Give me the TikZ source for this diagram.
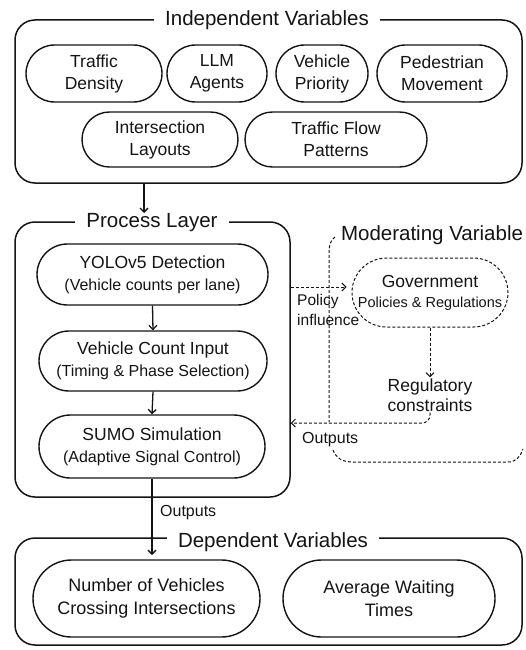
\documentclass[tikz,border=0pt]{standalone}
\usepackage{fontspec}
\setmainfont{Liberation Sans}
\usetikzlibrary{arrows.meta,shapes.misc}
\definecolor{ink}{HTML}{141414}
\begin{document}
\begin{tikzpicture}[x=1pt,y=-1pt,
  every node/.style={text=ink},
  group/.style={draw=ink, line width=1.5pt, rounded corners=20pt, inner sep=0pt},
  gtitle/.style={fill=white, inner xsep=11pt, inner ysep=1pt, font=\fontsize{20.5}{24}\selectfont},
  pill/.style={draw=ink, line width=1.4pt, rounded rectangle, inner sep=0pt, align=center, font=\fontsize{17.5}{22}\selectfont},
  dpill/.style={pill, dashed, line width=1pt, dash pattern=on 3pt off 2pt},
  lbl/.style={inner sep=0pt, align=left, font=\fontsize{16}{20}\selectfont},
  arr/.style={draw=ink, line width=1.3pt, -{Straight Barb[length=4pt,width=8pt]}},
  darr/.style={draw=ink, line width=1pt, dash pattern=on 3pt off 2pt, -{Straight Barb[length=4pt,width=8pt]}},
  dline/.style={draw=ink, line width=1pt, dash pattern=on 3pt off 2pt}
]
\useasboundingbox (0,0) rectangle (526,650);

% ---------- Independent variables ----------
\node[group, minimum width=507pt, minimum height=163pt] (indep) at (268.5,101.5) {};
\node[gtitle] (itit) at (267,20) {Independent Variables};
\node[pill, minimum width=136pt, minimum height=57pt] (td)  at (94,73.5)  {Traffic\\Density};
\node[pill, minimum width=100pt, minimum height=57pt] (llm) at (217,73.5) {LLM\\Agents};
\node[pill, minimum width=92pt,  minimum height=57pt] (vp)  at (322,73.5) {Vehicle\\Priority};
\node[pill, minimum width=130pt, minimum height=57pt] (pm)  at (442,73.5) {Pedestrian\\Movement};
\node[pill, minimum width=156pt, minimum height=55pt] (il)  at (160,139.5) {Intersection\\Layouts};
\node[pill, minimum width=182pt, minimum height=55pt] (tfp) at (336,139.5) {Traffic Flow\\Patterns};

% ---------- Process layer ----------
\node[group, minimum width=275pt, minimum height=275pt] (proc) at (152.5,359.5) {};
\node[gtitle] (ptit) at (152,223) {Process Layer};
\node[pill, minimum width=231pt, minimum height=61pt] (yolo) at (152.5,274.5)
  {YOLOv5 Detection\\{\fontsize{16}{20}\selectfont (Vehicle counts per lane)}};
\node[pill, minimum width=228pt, minimum height=60pt] (vci) at (153,361)
  {Vehicle Count Input\\{\fontsize{16}{20}\selectfont (Timing \& Phase Selection)}};
\node[pill, minimum width=226pt, minimum height=63pt] (sumo) at (152,446.5)
  {SUMO Simulation\\{\fontsize{16}{20}\selectfont (Adaptive Signal Control)}};

\coordinate (ia) at (144,213);
\draw[arr] (indep.south -| ia) -- (ia);
\draw[arr] (yolo.south) -- (vci.north);
\draw[arr] (vci.south) -- (sumo.north);

% ---------- Dependent variables ----------
\node[group, minimum width=507pt, minimum height=107pt] (dep) at (268.5,591.5) {};
\node[gtitle] (dtit) at (273,542) {Dependent Variables};
\node[pill, minimum width=227pt, minimum height=77pt, font=\fontsize{18}{23}\selectfont] (nv) at (146.5,598.5)
  {Number of Vehicles\\Crossing Intersections};
\node[pill, minimum width=212pt, minimum height=77pt, font=\fontsize{18}{23}\selectfont] (awt) at (389,598.5)
  {Average Waiting\\Times};

\coordinate (da) at (152,555);
\draw[arr] (sumo.south) -- (da);
\node[lbl, anchor=west] (out1) at (160,513) {Outputs};

% ---------- Moderating variable ----------
\node[inner sep=0pt, font=\fontsize{20.5}{24}\selectfont] (mtit) at (432,235) {Moderating Variable};
\draw[dline] (335,237) .. controls (331,240) and (329,244) .. (329,253) -- (329,422);
\draw[dline] (333,450) .. controls (336,458) and (342,462) .. (353,462) -- (508,462)
  .. controls (516,462) and (520,457) .. (523,449);

\node[dpill, minimum width=156pt, minimum height=69pt, font=\fontsize{17.5}{20}\selectfont] (gov) at (430,292.5)
  {Government\\{\fontsize{14.5}{18}\selectfont Policies \& Regulations}};

\draw[darr] ([yshift=5.5pt]gov.west -| proc.east) -- ([yshift=5.5pt,xshift=-5pt]gov.west);
\node[lbl, anchor=west, font=\fontsize{15.5}{20}\selectfont] (pinf) at (297,310) {Policy\\influence};

\node[inner sep=1pt, align=center, font=\fontsize{17.5}{20}\selectfont] (rc) at (430,395) {Regulatory\\constraints};
\draw[darr] (gov.south) -- (rc.north);
\draw[darr, rounded corners=8pt] (rc.south) |- (proc.east |- 0,423);
\node[lbl, anchor=west] (out2) at (302,440) {Outputs};

\end{tikzpicture}
\end{document}
